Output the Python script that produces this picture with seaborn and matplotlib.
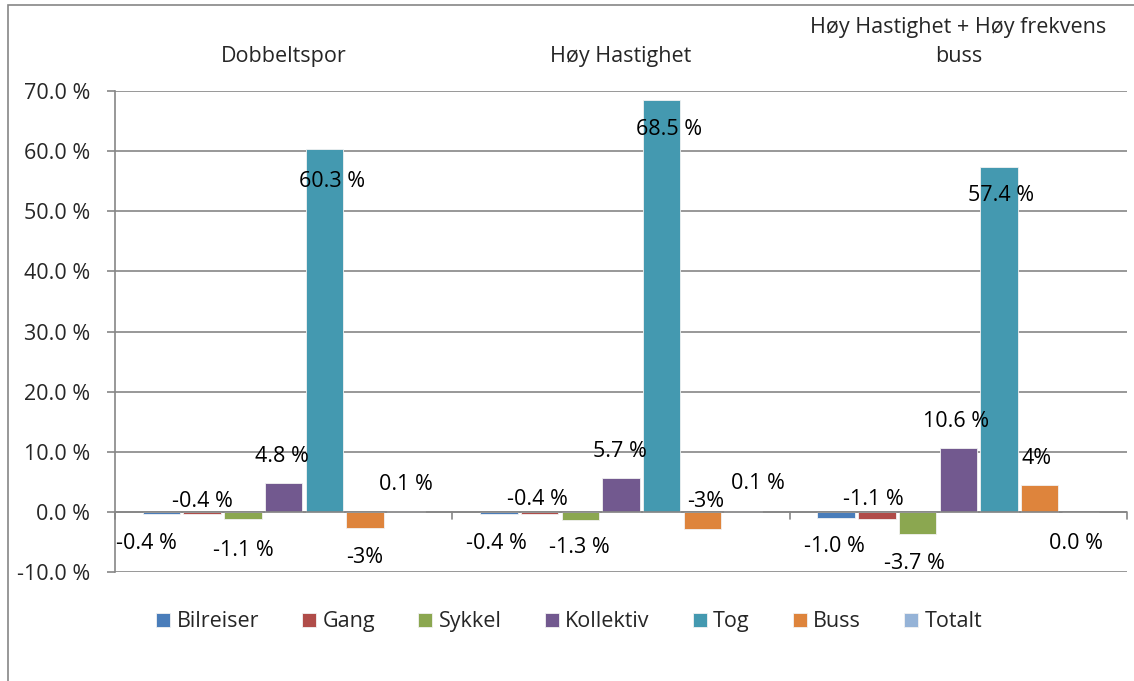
import matplotlib
matplotlib.use('Agg')
import matplotlib.pyplot as plt
import seaborn as sns
import pandas as pd
from matplotlib.patches import Rectangle

# data
scenarios = ['Dobbeltspor', 'Høy Hastighet', 'Høy Hastighet + Høy frekvens\nbuss']
modes = ['Bilreiser', 'Gang', 'Sykkel', 'Kollektiv', 'Tog', 'Buss', 'Totalt']
bilreiser = [-0.4, -0.4, -1.0]
gang = [-0.4, -0.4, -1.1]
sykkel = [-1.1, -1.3, -3.7]
kollektiv = [4.8, 5.7, 10.6]
tog = [60.3, 68.5, 57.4]
buss = [-2.7, -2.8, 4.4]
totalt = [0.1, 0.1, 0.0]

# label texts as printed in the chart (per mode, per scenario)
labels = {
    'Bilreiser': ['-0.4 %', '-0.4 %', '-1.0 %'],
    'Gang': ['-0.4 %', '-0.4 %', '-1.1 %'],
    'Sykkel': ['-1.1 %', '-1.3 %', '-3.7 %'],
    'Kollektiv': ['4.8 %', '5.7 %', '10.6 %'],
    'Tog': ['60.3 %', '68.5 %', '57.4 %'],
    'Buss': ['-3%', '-3%', '4%'],
    'Totalt': ['0.1 %', '0.1 %', '0.0 %'],
}
# label placement (y in data units, x shift in category units) - excel put them by hand
label_y = {
    'Bilreiser': [-5.2, -5.3, -5.8],
    'Gang': [1.7, 2.0, 2.0],
    'Sykkel': [-6.5, -6.0, -8.5],
    'Kollektiv': [9.2, 10.0, 15.0],
    'Tog': [54.9, 63.6, 52.7],
    'Buss': [-7.5, 1.7, 8.8],
    'Totalt': [4.5, 4.7, -5.2],
}
label_dx = {
    'Bilreiser': [-0.045, -0.006, -0.006],
    'Gang': [0, -0.006, -0.009],
    'Sykkel': [0, -0.003, -0.009],
    'Kollektiv': [-0.006, -0.003, -0.006],
    'Tog': [0.024, 0.021, 0.006],
    'Buss': [0, 0.009, -0.009],
    'Totalt': [0, 0.045, -0.012],
}

colors = ['#4A7DBA', '#B04C49', '#8BA750', '#72598F', '#4499B0', '#DE843C', '#95B3D7']

values = [bilreiser, gang, sykkel, kollektiv, tog, buss, totalt]
rows = []
for m, vals in zip(modes, values):
    for s, v in zip(scenarios, vals):
        rows.append({'scenario': s, 'mode': m, 'value': v})
df = pd.DataFrame(rows)

sns.set_style('white')
plt.rcParams['font.family'] = ['Open Sans', 'DejaVu Sans']
FS = 15.5

fig = plt.figure(figsize=(11.34, 6.81), dpi=100)
ax = fig.add_axes([0.1014, 0.160, 0.8924, 0.7064])

sns.barplot(data=df, x='scenario', y='value', hue='mode', order=scenarios,
            hue_order=modes, palette=colors, saturation=1, width=0.845, gap=0.08,
            edgecolor='#f2f2f2', linewidth=0.6, legend=True, ax=ax, zorder=3)

ax.set_ylim(-10, 70)
ax.set_xlim(-0.5, 2.5)
ax.set_yticks(range(-10, 71, 10))
ax.set_yticklabels([f'{t:.1f} %' for t in range(-10, 71, 10)], fontsize=FS)
ax.yaxis.grid(True, color='#868686', linewidth=1.2, zorder=0)
ax.set_axisbelow(True)
ax.tick_params(axis='y', left=True, length=6, width=1.2, color='#868686', pad=12)

# category names sit above the plot
ax.tick_params(axis='x', bottom=False, labelbottom=False, top=False, labeltop=True,
               length=0, pad=17, labelsize=FS)
for t in ax.get_xticklabels():
    t.set_linespacing(1.55)
ax.set_xlabel('')
ax.set_ylabel('')

for side in ['top', 'right', 'bottom']:
    ax.spines[side].set_visible(False)
ax.spines['left'].set_color('#868686')
ax.spines['left'].set_linewidth(1.2)

# x axis line at zero with category tick marks
ax.axhline(0, color='#868686', linewidth=1.2, zorder=4)
for b in [-0.5, 0.5, 1.5, 2.5]:
    ax.plot([b, b], [0, -1.2], color='#868686', linewidth=1.2, zorder=4, clip_on=False)

# data labels
for m, cont in zip(modes, ax.containers):
    for i, bar in enumerate(cont):
        xc = bar.get_x() + bar.get_width() / 2 + label_dx[m][i]
        ax.text(xc, label_y[m][i], labels[m][i], ha='center', va='center',
                fontsize=FS, color='black', zorder=5)

leg = ax.legend(loc='center', bbox_to_anchor=(0.502, 0.087), bbox_transform=fig.transFigure,
                ncol=7, frameon=False, fontsize=FS, handlelength=0.65, handleheight=0.65,
                handletextpad=0.3, columnspacing=2.0)

# chart area border
fig.patches.append(Rectangle((8 / 1134, -0.1), 1.2, 1 - 5 / 681 + 0.1, transform=fig.transFigure,
                             fill=False, edgecolor='#868686', linewidth=1.2))

fig.savefig('out.png', dpi=100)
